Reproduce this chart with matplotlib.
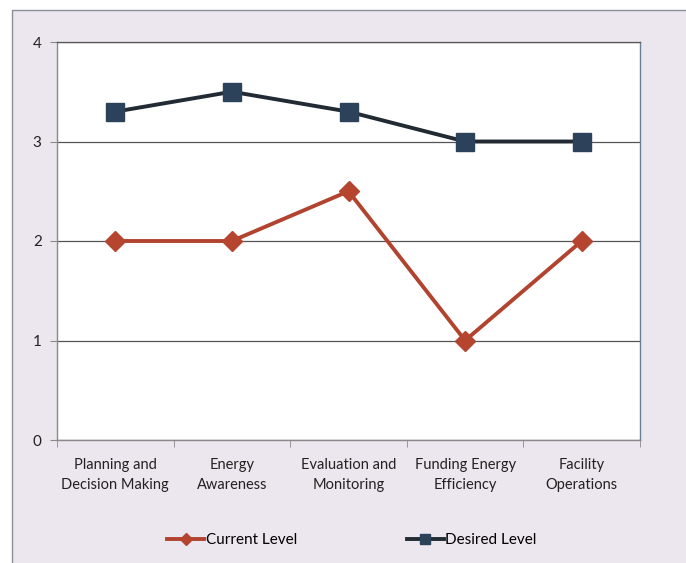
import numpy as np
import matplotlib.pyplot as plt
from matplotlib.patches import Rectangle

categories = ["Planning and\nDecision Making", "Energy\nAwareness", "Evaluation and\nMonitoring",
              "Funding Energy\nEfficiency", "Facility\nOperations"]
current_level = [2.0, 2.0, 2.5, 1.0, 2.0]
desired_level = [3.3, 3.5, 3.3, 3.0, 3.0]
y_ticks = [0, 1, 2, 3, 4]

plt.rcParams["font.family"] = ["Lato", "DejaVu Sans"]

fig = plt.figure(figsize=(6.86, 5.63), dpi=100)
fig.patch.set_facecolor("white")

# pinkish chart area with grey frame, cut off at right and bottom like the scan
W, H = 686, 563
fig.patches.append(Rectangle((12 / W, -0.05), 1.1, (H - 10) / H + 0.05,
                             transform=fig.transFigure, facecolor="#ece6ee",
                             edgecolor="#8a8f98", linewidth=1.0, zorder=-5))

ax = fig.add_axes([57 / W, (H - 440) / H, (640 - 57) / W, (440 - 42) / H])
ax.set_facecolor("white")

x = np.arange(len(categories))
ax.plot(x, current_level, color="#b1432f", linewidth=2.8, marker="D", markersize=10.5,
        markerfacecolor="#b5452f", markeredgecolor="#b5452f", label="Current Level", zorder=3)
ax.plot(x, desired_level, color="#222b33", linewidth=2.8, marker="s", markersize=13.5,
        markerfacecolor="#2c425a", markeredgecolor="#2c425a", label="Desired Level", zorder=3)

ax.set_xlim(-0.5, len(categories) - 0.5)
ax.set_ylim(0, 4)
ax.set_yticks(y_ticks)
ax.set_yticklabels([str(v) for v in y_ticks], fontsize=11, color="#222222")
ax.set_xticks(x)
ax.set_xticklabels(categories, fontsize=10.5, color="#222222", linespacing=1.5)
ax.set_xticks(np.arange(-0.5, len(categories), 1), minor=True)
ax.tick_params(axis="x", which="major", length=0, pad=13)
ax.tick_params(axis="x", which="minor", length=5, color="#8a8a8a", direction="out")
ax.tick_params(axis="y", length=5, color="#8a8a8a", direction="out", pad=6)

ax.yaxis.grid(True, color="#555555", linewidth=0.9)
ax.set_axisbelow(True)

for side in ["left", "bottom"]:
    ax.spines[side].set_color("#8a8a8a")
    ax.spines[side].set_linewidth(1.0)
ax.spines["top"].set_color("#555555")
ax.spines["top"].set_linewidth(0.9)
ax.spines["right"].set_color("#6a7f94")
ax.spines["right"].set_linewidth(1.0)

leg = fig.legend(loc="center", bbox_to_anchor=(0.5 + 9 / W, (H - 540) / H), ncol=2, frameon=False,
                 fontsize=11, handlelength=2.4, handletextpad=0.1, columnspacing=7.2,
                 markerscale=0.55)

fig.savefig("out.png", dpi=100, facecolor=fig.get_facecolor())
